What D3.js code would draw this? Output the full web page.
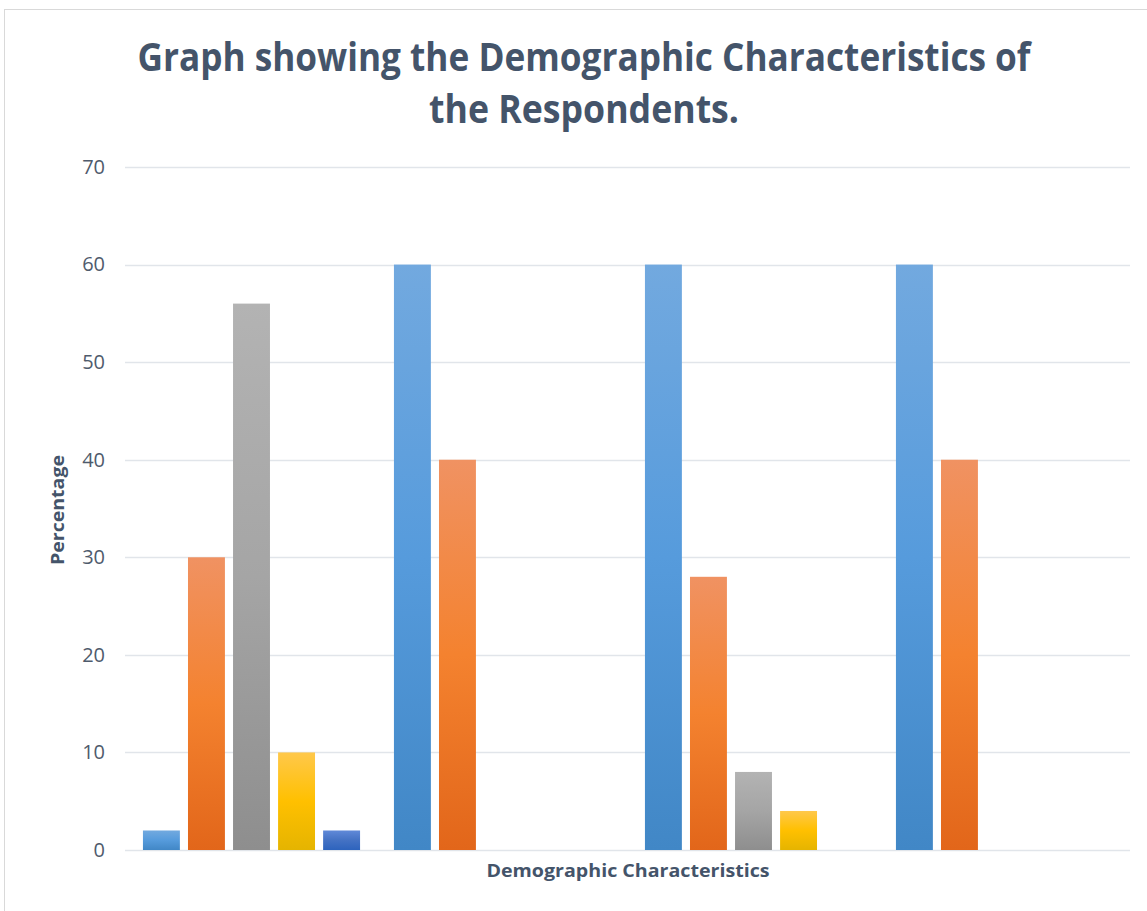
<!DOCTYPE html>
<html>
<head>
<meta charset="utf-8">
<script src="https://cdn.jsdelivr.net/npm/d3@7"></script>
<style>
  body { margin: 0; background: #fff; }
  svg { display: block; }
</style>
</head>
<body>
<svg id="chart"></svg>
<script>
const groups = ["G1", "G2", "G3", "G4"];
const seriesNames = ["S1", "S2", "S3", "S4", "S5"];
const s1 = [2, 60, 60, 60];
const s2 = [30, 40, 28, 40];
const s3 = [56, 0, 8, 0];
const s4 = [10, 0, 4, 0];
const s5 = [2, 0, 0, 0];
const yTicks = [0, 10, 20, 30, 40, 50, 60, 70];

// [top, middle, bottom] of each bar gradient
const gradStops = [
  ["#72a9df", "#569bdc", "#4187c6"],
  ["#f09262", "#f4822f", "#e2661a"],
  ["#b3b3b3", "#a5a5a5", "#8e8e8e"],
  ["#ffc84b", "#ffc000", "#e5b400"],
  ["#6089d8", "#4472c4", "#2d63bd"]
];

const width = 1147, height = 911;
const margin = { left: 126, right: 17, top: 167, bottom: 61 };

const svg = d3.select("#chart")
    .attr("width", width)
    .attr("height", height);

// chart border
svg.append("rect")
    .attr("x", 4.5).attr("y", 9.5)
    .attr("width", width + 10).attr("height", height + 10)
    .style("fill", "#fff")
    .style("stroke", "#d9d9d9");

const defs = svg.append("defs");
gradStops.forEach((c, i) => {
  const g = defs.append("linearGradient")
      .attr("id", "grad" + i)
      .attr("x1", 0).attr("y1", 0).attr("x2", 0).attr("y2", 1);
  g.append("stop").attr("offset", "0%").attr("stop-color", c[0]);
  g.append("stop").attr("offset", "50%").attr("stop-color", c[1]);
  g.append("stop").attr("offset", "100%").attr("stop-color", c[2]);
});

const x0 = d3.scaleBand()
    .domain(groups)
    .range([margin.left, width - margin.right])
    .paddingInner(0.135)
    .paddingOuter(0.0675);

const x1 = d3.scaleBand()
    .domain(seriesNames)
    .range([0, x0.bandwidth()])
    .paddingInner(0.18);

const y = d3.scaleLinear()
    .domain([0, 70])
    .range([height - margin.bottom, margin.top]);

// gridlines
svg.append("g")
  .selectAll("line")
  .data(yTicks)
  .join("line")
    .attr("x1", margin.left - 1)
    .attr("x2", width - margin.right)
    .attr("y1", d => Math.round(y(d)) + 0.5)
    .attr("y2", d => Math.round(y(d)) + 0.5)
    .style("stroke", "#e1e5ea")
    .style("stroke-width", 1.3);

// y axis labels
const yAxis = d3.axisLeft(y).tickValues(yTicks).tickSize(0).tickPadding(0);
svg.append("g")
    .attr("transform", `translate(${margin.left - 21},0)`)
    .call(yAxis)
    .call(g => g.select(".domain").remove())
    .call(g => g.selectAll("text")
        .style("font-family", "'Open Sans', sans-serif")
        .style("font-size", "20px")
        .style("fill", "#4f5b6c"));

const allSeries = [s1, s2, s3, s4, s5];
const rows = groups.map((g, gi) => ({
  group: g,
  values: seriesNames.map((s, si) => ({ key: s, idx: si, value: allSeries[si][gi] }))
}));

svg.append("g")
  .selectAll("g")
  .data(rows)
  .join("g")
    .attr("transform", d => `translate(${x0(d.group)},0)`)
  .selectAll("rect")
  .data(d => d.values.filter(v => v.value > 0))
  .join("rect")
    .attr("x", d => x1(d.key))
    .attr("width", x1.bandwidth())
    .attr("y", d => y(d.value))
    .attr("height", d => y(0) - y(d.value))
    .style("fill", d => `url(#grad${d.idx})`);

// title
const title = svg.append("text")
    .attr("text-anchor", "middle")
    .style("font-family", "'Open Sans', sans-serif")
    .style("font-weight", "bold")
    .style("font-size", "39px")
    .style("fill", "#44546a");
title.append("tspan").attr("x", 584).attr("y", 71)
    .attr("textLength", 893).attr("lengthAdjust", "spacingAndGlyphs")
    .text("Graph showing the Demographic Characteristics of");
title.append("tspan").attr("x", 584).attr("y", 123)
    .attr("textLength", 310).attr("lengthAdjust", "spacingAndGlyphs")
    .text("the Respondents.");

// axis titles
svg.append("text")
    .attr("transform", "translate(64,510) rotate(-90)")
    .attr("text-anchor", "middle")
    .attr("textLength", 110).attr("lengthAdjust", "spacingAndGlyphs")
    .style("font-family", "'Open Sans', sans-serif")
    .style("font-weight", "bold")
    .style("font-size", "18px")
    .style("fill", "#44546a")
    .text("Percentage");

svg.append("text")
    .attr("x", 628).attr("y", 877)
    .attr("text-anchor", "middle")
    .attr("textLength", 283).attr("lengthAdjust", "spacingAndGlyphs")
    .style("font-family", "'Open Sans', sans-serif")
    .style("font-weight", "bold")
    .style("font-size", "18px")
    .style("fill", "#44546a")
    .text("Demographic Characteristics");
</script>
</body>
</html>
